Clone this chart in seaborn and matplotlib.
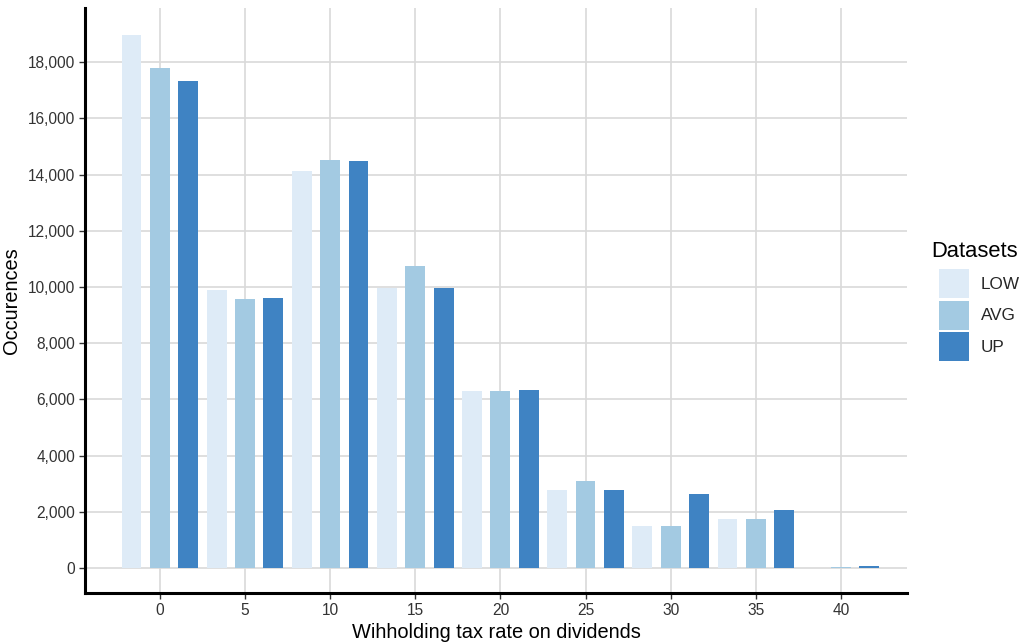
import matplotlib
matplotlib.use("Agg")
import matplotlib.pyplot as plt
import seaborn as sns
import pandas as pd
from matplotlib.ticker import FuncFormatter, MultipleLocator

rates = [0, 5, 10, 15, 20, 25, 30, 35, 40]
low = [18980, 9880, 14130, 9950, 6290, 2770, 1490, 1740, 5]
avg = [17800, 9580, 14510, 10740, 6290, 3090, 1490, 1740, 15]
up = [17340, 9620, 14490, 9950, 6330, 2780, 2630, 2060, 50]
datasets = ["LOW", "AVG", "UP"]
colors = ["#DEEBF7", "#A3CAE2", "#3F83C3"]

rows = []
for name, vals in zip(datasets, [low, avg, up]):
    for r, v in zip(rates, vals):
        rows.append({"rate": r, "count": v, "Datasets": name})
df = pd.DataFrame(rows)

sns.set_theme(style="white")
plt.rcParams["font.family"] = ["Liberation Sans", "DejaVu Sans"]

fig = plt.figure(figsize=(10.23, 6.43), dpi=100)
ax = fig.add_axes([0.083, 0.078, 0.804, 0.909])

sns.barplot(data=df, x="rate", y="count", hue="Datasets", hue_order=datasets,
            palette=colors, native_scale=True, width=1.0, gap=0.3,
            ax=ax, zorder=3, saturation=1, errorbar=None, linewidth=0)

ax.set_xlim(-4.4, 43.9)
ax.set_ylim(-890, 19920)
ax.xaxis.set_major_locator(MultipleLocator(5))
ax.yaxis.set_major_locator(MultipleLocator(2000))
ax.yaxis.set_major_formatter(FuncFormatter(lambda v, p: f"{int(v):,}"))
ax.grid(True, color="#D9D9D9", linewidth=1.2, zorder=0)
ax.set_axisbelow(True)
for s in ["top", "right"]:
    ax.spines[s].set_visible(False)
for s in ["left", "bottom"]:
    ax.spines[s].set_color("black")
    ax.spines[s].set_linewidth(2.2)
ax.tick_params(axis="both", which="major", length=4, width=1, color="#333333",
               labelsize=11.2, labelcolor="#333333", left=True, bottom=True, pad=3)
ax.set_xlabel("Wihholding tax rate on dividends", fontsize=14.4, color="black", labelpad=4)
ax.set_ylabel("Occurences", fontsize=14.4, color="black", labelpad=5)

leg = ax.legend(loc="upper left", bbox_to_anchor=(939 / 1023, 1 - 269 / 643),
                bbox_transform=fig.transFigure,
                frameon=False, fontsize=12.3, borderpad=0,
                handlelength=1.75, handleheight=2.24, labelspacing=0.15,
                handletextpad=0.7, borderaxespad=0)
for h in leg.legend_handles:
    h.set_linewidth(0)
fig.text(931 / 1023, 1 - 257 / 643, "Datasets", fontsize=15.8, color="black",
         ha="left", va="baseline")

fig.savefig("out.png", dpi=100)
